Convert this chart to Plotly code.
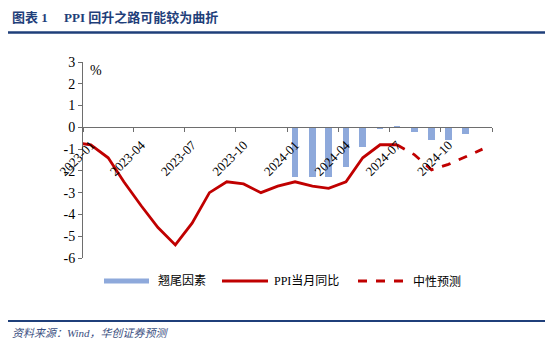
import plotly.graph_objects as go

# ---- data -------------------------------------------------------------
ppi_months = ["2022-12", "2023-01", "2023-02", "2023-03", "2023-04", "2023-05",
              "2023-06", "2023-07", "2023-08", "2023-09", "2023-10", "2023-11",
              "2023-12", "2024-01", "2024-02", "2024-03", "2024-04", "2024-05",
              "2024-06", "2024-07"]
ppi_yoy = [-0.7, -0.8, -1.4, -2.5, -3.6, -4.6, -5.4, -4.4, -3.0, -2.5, -2.6, -3.0,
           -2.7, -2.5, -2.7, -2.8, -2.5, -1.4, -0.8, -0.8]

forecast_months = ["2024-07", "2024-08", "2024-09", "2024-10", "2024-11", "2024-12"]
ppi_forecast = [-0.8, -1.25, -1.95, -1.7, -1.35, -1.0]

carry_months = ["2024-01", "2024-02", "2024-03", "2024-04", "2024-05", "2024-06",
                "2024-07", "2024-08", "2024-09", "2024-10", "2024-11", "2024-12"]
carryover = [-2.3, -2.3, -2.3, -1.8, -0.9, -0.08, 0.08, -0.2, -0.6, -0.6, -0.3, 0.0]

tick_months = ["2023-01", "2023-04", "2023-07", "2023-10",
               "2024-01", "2024-04", "2024-07", "2024-10"]
y_ticks = [3, 2, 1, 0, -1, -2, -3, -4, -5, -6]

legend_names = ["翘尾因素", "PPI当月同比", "中性预测"]

# ---- style ------------------------------------------------------------
W, H = 550, 342
ML, MR, MT, MB = 83, 58, 62, 84
RED = "#C00000"
BLUE_BAR = "#8EA9DB"
NAVY = "#1F3F7A"
SERIF = "Liberation Serif, 'Noto Sans CJK SC', serif"
CJK = "'Liberation Serif', 'Noto Sans CJK SC', sans-serif"
AXIS = "#6E6E6E"


def mid(m):
    return m + "-15"


def px_x(px):
    return (px - ML) / (W - ML - MR)


def px_y(py):
    return (H - MB - py) / (H - MT - MB)


fig = go.Figure()

fig.add_trace(go.Bar(
    x=[mid(m) for m in carry_months], y=carryover,
    width=12 * 24 * 3600 * 1000,
    marker=dict(color=BLUE_BAR, line=dict(width=0)),
    name=legend_names[0], showlegend=False,
))
fig.add_trace(go.Scatter(
    x=[mid(m) for m in ppi_months], y=ppi_yoy, mode="lines",
    line=dict(color=RED, width=2.8),
    name=legend_names[1], showlegend=False,
))
fig.add_trace(go.Scatter(
    x=[mid(m) for m in forecast_months], y=ppi_forecast, mode="lines",
    line=dict(color=RED, width=2.8, dash="dash"),
    name=legend_names[2], showlegend=False,
))

y_min, y_max = -6, 3
zero_pos = (0 - y_min) / (y_max - y_min)

fig.update_layout(
    template="none",
    width=W, height=H,
    margin=dict(l=ML, r=MR, t=MT, b=MB, pad=0),
    paper_bgcolor="white", plot_bgcolor="white",
    bargap=0,
    xaxis=dict(
        type="date",
        range=["2023-01-01", "2025-01-01"],
        tickmode="array",
        tickvals=[m + "-01" for m in tick_months] + ["2025-01-01"],
        ticktext=tick_months + [""],
        tickangle=-45,
        ticklabelshift=8,
        ticks="outside", ticklen=4, tickcolor=AXIS, tickwidth=1,
        showline=True, linecolor=AXIS, linewidth=1,
        showgrid=False, zeroline=False,
        anchor="free", position=zero_pos,
        tickfont=dict(family=SERIF, size=13, color="#000000"),
        automargin=False,
    ),
    yaxis=dict(
        range=[y_min, y_max],
        tickmode="array",
        tickvals=y_ticks,
        ticktext=[str(v) for v in y_ticks],
        ticks="outside", ticklen=4, tickcolor=AXIS, tickwidth=1,
        showline=True, linecolor=AXIS, linewidth=1,
        showgrid=False, zeroline=False,
        tickfont=dict(family=SERIF, size=14, color="#000000"),
        automargin=False,
    ),
)

annotations = []
shapes = []

# unit label
annotations.append(dict(xref="paper", yref="paper", x=px_x(96), y=px_y(70),
                        text="%", showarrow=False, xanchor="center", yanchor="middle",
                        font=dict(family=SERIF, size=14, color="#000000")))

# header
annotations.append(dict(xref="paper", yref="paper", x=px_x(10), y=px_y(18),
                        text="<b>图表 1</b>", showarrow=False, xanchor="left", yanchor="middle",
                        font=dict(family=CJK, size=13, color=NAVY)))
annotations.append(dict(xref="paper", yref="paper", x=px_x(62), y=px_y(18),
                        text="<b>PPI 回升之路可能较为曲折</b>", showarrow=False,
                        xanchor="left", yanchor="middle",
                        font=dict(family=CJK, size=13, color=NAVY)))
shapes.append(dict(type="line", xref="paper", yref="paper",
                   x0=px_x(8), x1=px_x(545), y0=px_y(32.5), y1=px_y(32.5),
                   line=dict(color=NAVY, width=2.5)))

# footer
shapes.append(dict(type="line", xref="paper", yref="paper",
                   x0=px_x(8), x1=px_x(545), y0=px_y(321), y1=px_y(321),
                   line=dict(color=NAVY, width=2)))
annotations.append(dict(xref="paper", yref="paper", x=px_x(10), y=px_y(333),
                        text="<i>资料来源：Wind，华创证券预测</i>", showarrow=False,
                        xanchor="left", yanchor="middle",
                        font=dict(family=CJK, size=11, color="#3B4F7F")))

# legend row
leg_y = 281
shapes.append(dict(type="rect", xref="paper", yref="paper",
                   x0=px_x(104), x1=px_x(149), y0=px_y(leg_y - 2.5), y1=px_y(leg_y + 2.5),
                   fillcolor=BLUE_BAR, line=dict(width=0)))
shapes.append(dict(type="line", xref="paper", yref="paper",
                   x0=px_x(222), x1=px_x(268), y0=px_y(leg_y), y1=px_y(leg_y),
                   line=dict(color=RED, width=2.8)))
shapes.append(dict(type="line", xref="paper", yref="paper",
                   x0=px_x(358), x1=px_x(405), y0=px_y(leg_y), y1=px_y(leg_y),
                   line=dict(color=RED, width=3, dash="dash")))
for name, xs in zip(legend_names, [156, 272, 411]):
    annotations.append(dict(xref="paper", yref="paper", x=px_x(xs), y=px_y(leg_y),
                            text=name, showarrow=False, xanchor="left", yanchor="middle",
                            font=dict(family=CJK, size=12, color="#000000")))

fig.update_layout(annotations=annotations, shapes=shapes)

fig.write_html("out.html")
